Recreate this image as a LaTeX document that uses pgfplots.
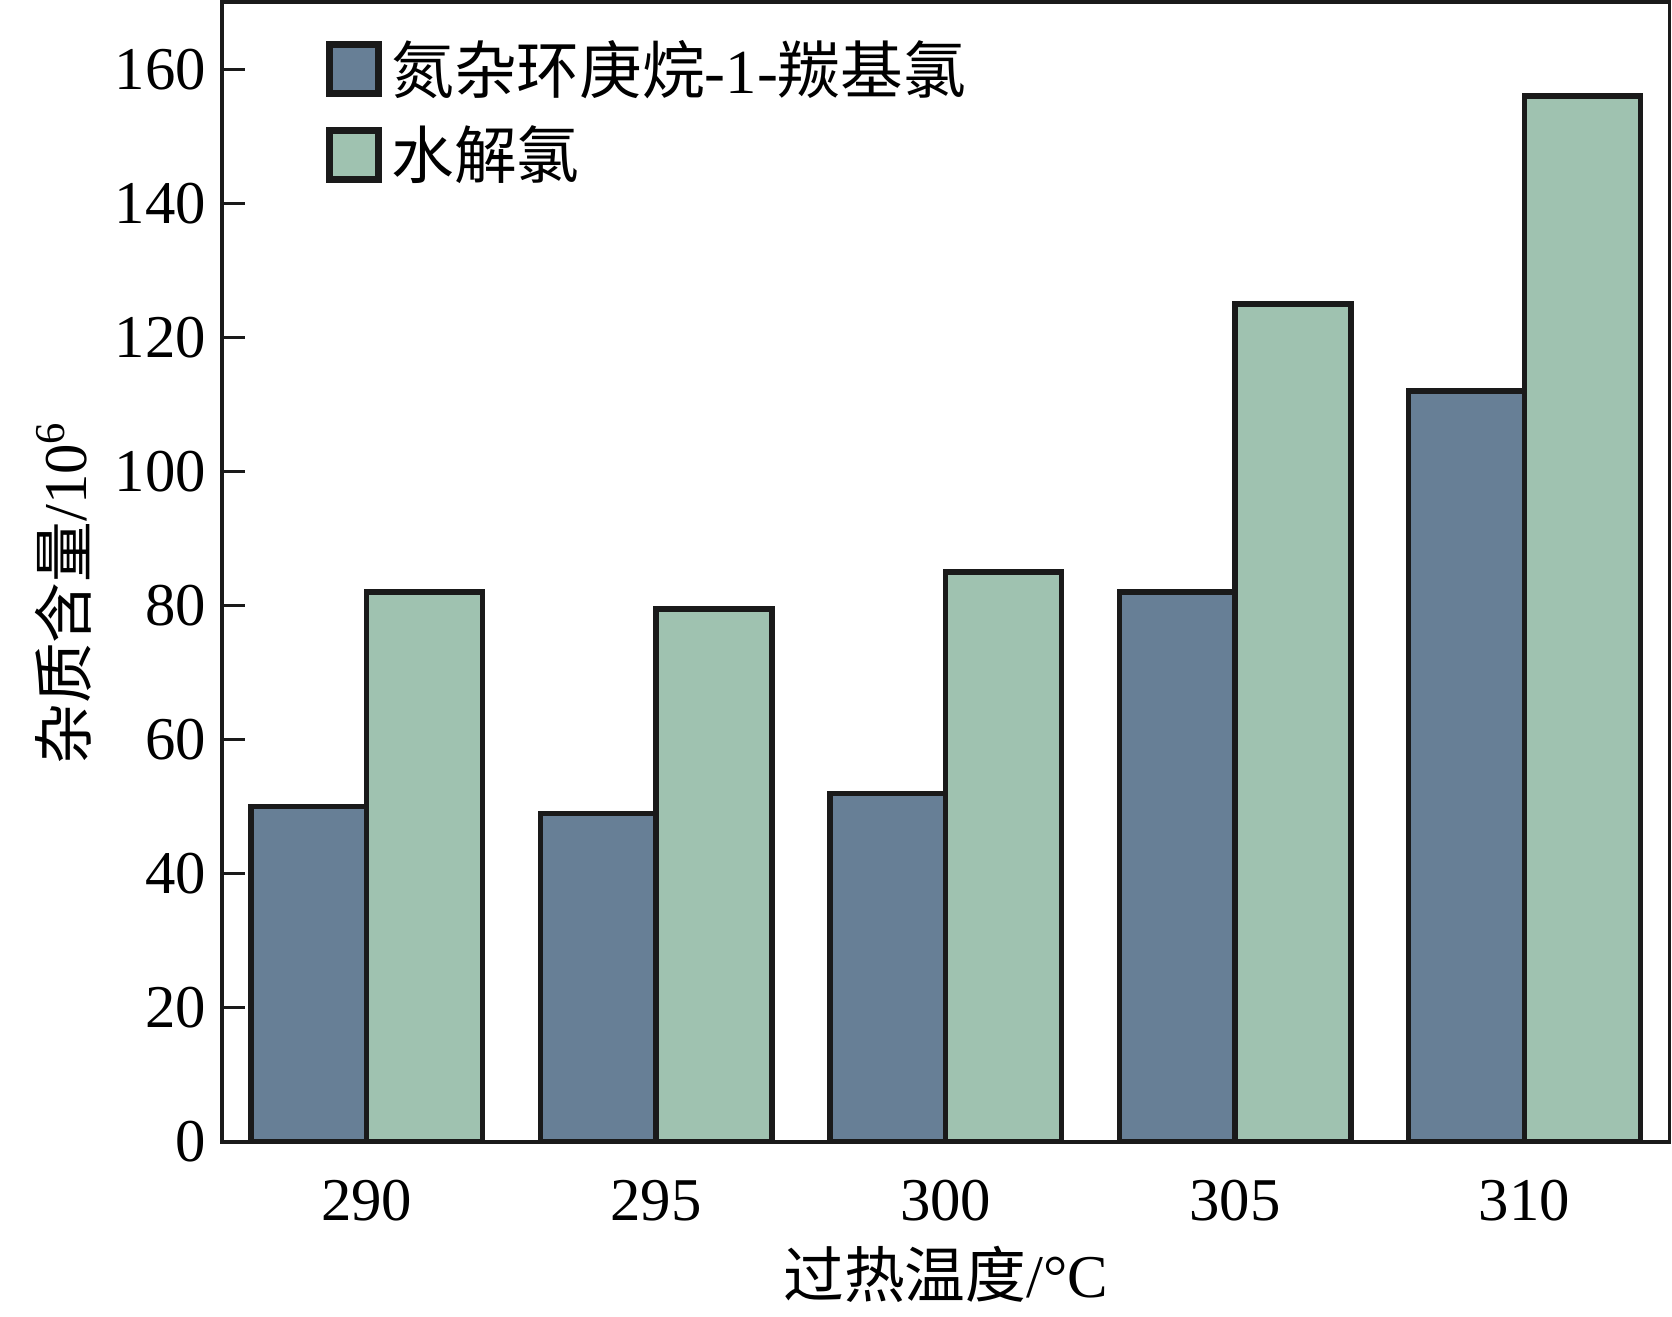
\documentclass[border=0pt]{standalone}
\usepackage{fontspec}
\setmainfont{Liberation Serif}
\newfontfamily\cjk{Noto Sans CJK SC}
\usepackage{pgfplots}
\pgfplotsset{compat=1.18}
\definecolor{cblue}{HTML}{677F96}
\definecolor{cgreen}{HTML}{9FC2B0}
\definecolor{edge}{HTML}{1A1A1A}
\begin{document}
\begin{tikzpicture}
\begin{axis}[
 scale only axis, width=10.385cm, height=8.18cm,
 xmin=-0.5, xmax=4.5, ymin=0, ymax=170,
 ybar=0pt, bar width=0.4,
 xtick={0,...,4}, xticklabels={290,295,300,305,310},
 ytick={0,20,...,160},
 tick align=inside, ytick pos=left, xtick style={draw=none},
 major tick length=0.165cm,
 axis line style={line width=0.65pt, draw=edge},
 ytick style={line width=0.6pt, draw=edge},
 /pgf/number format/assume math mode=true,
 ticklabel style={font=\fontsize{12.4}{14}\selectfont},
 yticklabel style={xshift=0.01cm},
 xticklabel style={yshift=-0.15cm},
 xlabel={{\cjk 过热温度}/°C},
 ylabel={{\cjk 杂质含量}/10\textsuperscript{6}},
 label style={font=\fontsize{12.4}{14}\selectfont},
 xlabel style={at={(axis description cs:0.5,-0.1158)}, anchor=center},
 ylabel style={at={(axis description cs:-0.11,0.482)}, anchor=center, rotate=0},
 legend style={at={(axis description cs:0.0718,0.975)}, anchor=north west, draw=none, fill=none,
   font=\fontsize{12.8}{14}\selectfont, row sep=0.04cm, inner sep=0pt, outer sep=0pt,
   /tikz/every even column/.append style={column sep=0.225cm}},
 legend cell align=left,
]
\addplot[fill=cblue, draw=edge, line width=1.1pt,
  legend image code/.code={\draw[fill=cblue, draw=edge, line width=1.4pt] (0cm,-0.165cm) rectangle (0.35cm,0.185cm);}]
  coordinates {(0,50) (1,49) (2,52) (3,82) (4,112)};
\addplot[fill=cgreen, draw=edge, line width=1.1pt,
  legend image code/.code={\draw[fill=cgreen, draw=edge, line width=1.4pt] (0cm,-0.165cm) rectangle (0.35cm,0.185cm);}]
  coordinates {(0,82) (1,79.5) (2,85) (3,125) (4,156)};
\legend{{\cjk 氮杂环庚烷}-1-{\cjk 羰基氯}, {\cjk 水解氯}}
\end{axis}
\pgfresetboundingbox
\path[use as bounding box] ([shift={(-1.593cm,-1.249cm)}]current axis.south west) rectangle ([shift={(0.02cm,0.015cm)}]current axis.north east);
\end{tikzpicture}
\end{document}
